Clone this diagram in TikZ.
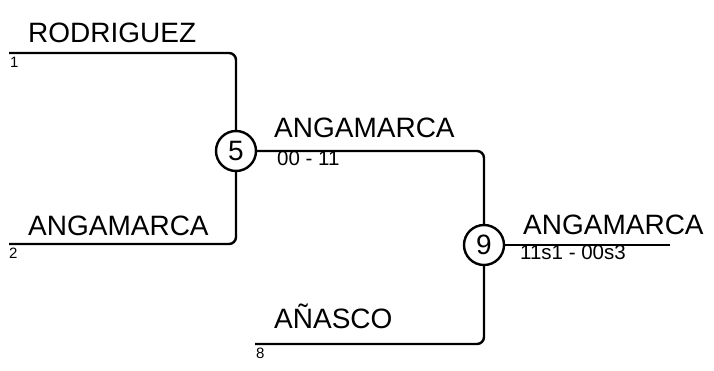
\documentclass[tikz,border=0pt]{standalone}
\usepackage{fontspec}
\setmainfont{Liberation Sans}
\begin{document}
\begin{tikzpicture}[x=1pt,y=-1pt,line width=2.4pt,
    team/.style={inner sep=0,anchor=base west,font=\fontsize{28}{30}\selectfont},
    seed/.style={inner sep=0,anchor=north west,font=\fontsize{15}{16}\selectfont},
    score/.style={inner sep=0,anchor=north west,font=\fontsize{20.5}{22}\selectfont},
    game/.style={draw,circle,fill=white,minimum size=40pt,inner sep=0,font=\fontsize{28}{30}\selectfont},
    link/.style={rounded corners=7pt}]
        \useasboundingbox (0,0) rectangle (714,370);
        % games
        \node[game] (g5) at (236,151) {5};
        \node[game] (g9) at (484,245) {9};
        % line starts
        \coordinate (s1) at (9,53);
        \coordinate (s2) at (9,244);
        \coordinate (s8) at (255,344);
        \coordinate (win) at (670,245);
        % connectors
        \draw[link] (s1) -- (s1 -| g5) -- (g5);
        \draw[link] (s2) -- (s2 -| g5) -- (g5);
        \draw[link] (g5) -- (g5 -| g9) -- (g9);
        \draw[link] (s8) -- (s8 -| g9) -- (g9);
        \draw (g9) -- (win);
        % names
        \node[team] (t1) at (27,42) {RODRIGUEZ};
        \node[team] (t2) at (27,235) {ANGAMARCA};
        \node[team] (t5) at (273,137) {ANGAMARCA};
        \node[team] (t8) at (273,328) {AÑASCO};
        \node[team] (t9) at (522,234) {ANGAMARCA};
        % seeds and scores
        \node[seed] (n1) at (9,56) {1};
        \node[seed] (n2) at (8,247) {2};
        \node[seed] (n8) at (255,347) {8};
        \node[score] (r5) at (276,150) {00 - 11};
        \node[score] (r9) at (519,244) {11s1 - 00s3};
\end{tikzpicture}
\end{document}
